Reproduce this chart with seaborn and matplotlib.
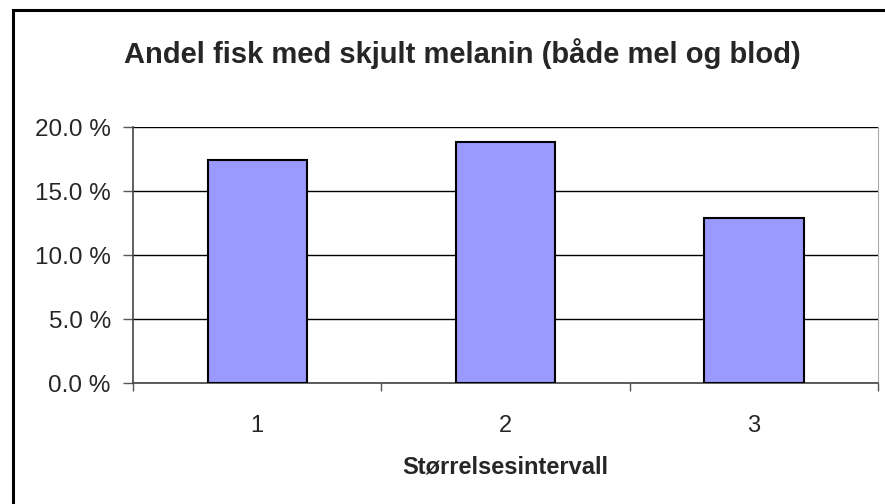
import matplotlib
matplotlib.use("Agg")
import matplotlib.pyplot as plt
import seaborn as sns
import pandas as pd
from matplotlib.patches import Rectangle
from matplotlib.ticker import FuncFormatter, MultipleLocator

# Data
intervals = ["1", "2", "3"]
andel = [0.174, 0.188, 0.129]

df = pd.DataFrame({"intervall": intervals, "andel": andel})

sns.set_style("white")
plt.rcParams["font.family"] = ["Liberation Sans", "DejaVu Sans"]

fig = plt.figure(figsize=(8.85, 5.04), dpi=100)
ax = fig.add_axes([0.1503, 0.240, 0.8418, 0.508])

sns.barplot(data=df, x="intervall", y="andel", color="#9999FF", saturation=1,
            width=0.4, edgecolor="black", linewidth=1.5, ax=ax, zorder=3)

ax.set_ylim(0, 0.20)
ax.set_xlim(-0.5, 2.5)
ax.yaxis.set_major_locator(MultipleLocator(0.05))
ax.yaxis.set_major_formatter(FuncFormatter(lambda v, p: f"{v*100:.1f} %"))
ax.grid(axis="y", color="black", linewidth=1, zorder=0)
ax.grid(axis="x", visible=False)

# category boundary ticks, labels centred under bars
ax.set_xticks([-0.5, 0.5, 1.5, 2.5], minor=False)
ax.set_xticklabels([])
ax.set_xticks([0, 1, 2], minor=True)
ax.set_xticklabels(intervals, minor=True)
ax.tick_params(axis="x", which="major", length=6, width=1, color="#555555", direction="out")
ax.tick_params(axis="x", which="minor", length=0, labelsize=17, pad=23)
ax.tick_params(axis="y", length=7, width=1, color="#555555", direction="out",
               labelsize=17.5, pad=9)
ax.tick_params(bottom=True, left=True)

ax.spines["top"].set_visible(False)
ax.spines["left"].set_color("#444444")
ax.spines["bottom"].set_color("#444444")
ax.spines["right"].set_color("#aaaaaa")
ax.spines["left"].set_linewidth(1.2)
ax.spines["bottom"].set_linewidth(1.2)

ax.set_ylabel("")
ax.set_xlabel("Størrelsesintervall", fontsize=17, fontweight="bold", labelpad=13)

fig.text(0.522, 0.893, "Andel fisk med skjult melanin (både mel og blod)",
         ha="center", va="center", fontsize=21, fontweight="bold")

# outer chart border (cut off on right and bottom)
fig.patches.append(Rectangle((13 / 885, -0.05), 1.1, 1.05 - 10 / 504,
                             transform=fig.transFigure, fill=False,
                             edgecolor="black", linewidth=2.2))

fig.savefig("out.png", dpi=100)
